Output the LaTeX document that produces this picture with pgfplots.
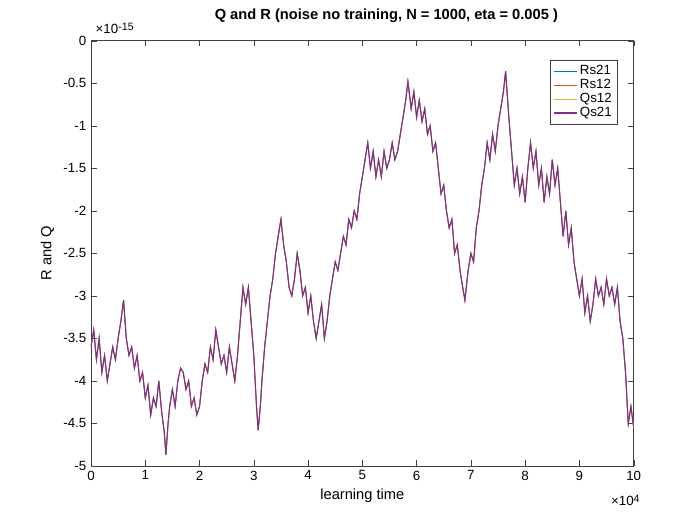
\documentclass[border=0pt]{standalone}
\usepackage{pgfplots}
\pgfplotsset{compat=1.18}
\usepackage{pgfplotstable}
\usepackage{fontspec}
\setmainfont{Liberation Sans}
\definecolor{matblue}{rgb}{0,0.447,0.741}
\definecolor{matorange}{rgb}{0.85,0.325,0.098}
\definecolor{matyellow}{rgb}{0.929,0.694,0.125}
\definecolor{matpurple}{rgb}{0.494,0.184,0.556}
\pgfplotstableread{
x y
0 -3.6
0.05 -3.4
0.1 -3.75
0.15 -3.5
0.2 -3.9
0.25 -3.7
0.3 -4.0
0.35 -3.8
0.4 -3.6
0.45 -3.75
0.5 -3.5
0.55 -3.3
0.6 -3.05
0.65 -3.5
0.7 -3.7
0.75 -3.6
0.8 -3.85
0.85 -3.7
0.9 -4.0
0.95 -3.9
1.0 -4.2
1.05 -4.05
1.1 -4.4
1.15 -4.2
1.2 -4.3
1.25 -4.0
1.3 -4.35
1.35 -4.6
1.38 -4.87
1.42 -4.5
1.45 -4.3
1.5 -4.1
1.55 -4.3
1.6 -4.0
1.65 -3.85
1.7 -3.9
1.75 -4.1
1.8 -4.0
1.85 -4.3
1.9 -4.2
1.95 -4.4
2.0 -4.3
2.05 -4.0
2.1 -3.8
2.15 -3.9
2.2 -3.6
2.25 -3.75
2.3 -3.4
2.35 -3.6
2.4 -3.8
2.45 -3.7
2.5 -3.9
2.55 -3.6
2.6 -3.8
2.65 -4.0
2.7 -3.7
2.75 -3.3
2.8 -2.9
2.85 -3.1
2.9 -2.9
2.95 -3.3
3.0 -3.7
3.05 -4.3
3.08 -4.58
3.12 -4.3
3.15 -4.0
3.2 -3.6
3.25 -3.3
3.3 -3.0
3.35 -2.8
3.4 -2.5
3.45 -2.3
3.5 -2.1
3.55 -2.4
3.6 -2.6
3.65 -2.9
3.7 -3.0
3.75 -2.8
3.8 -2.5
3.85 -2.7
3.9 -3.0
3.95 -2.9
4.0 -3.2
4.05 -3.0
4.1 -3.3
4.15 -3.5
4.2 -3.3
4.25 -3.1
4.3 -3.5
4.35 -3.3
4.4 -3.0
4.45 -2.8
4.5 -2.6
4.55 -2.7
4.6 -2.5
4.65 -2.3
4.7 -2.4
4.75 -2.1
4.8 -2.2
4.85 -2.0
4.9 -2.1
4.95 -1.8
5.0 -1.6
5.05 -1.4
5.1 -1.2
5.15 -1.5
5.2 -1.3
5.25 -1.6
5.3 -1.4
5.35 -1.6
5.4 -1.3
5.45 -1.5
5.5 -1.4
5.55 -1.2
5.6 -1.4
5.65 -1.3
5.7 -1.1
5.75 -0.9
5.8 -0.7
5.84 -0.48
5.9 -0.8
5.95 -0.6
6.0 -0.9
6.05 -0.7
6.1 -0.95
6.15 -0.8
6.2 -1.1
6.25 -1.0
6.3 -1.3
6.35 -1.2
6.4 -1.5
6.45 -1.8
6.5 -1.7
6.55 -2.0
6.6 -2.2
6.65 -2.1
6.7 -2.5
6.75 -2.4
6.8 -2.7
6.85 -2.9
6.89 -3.05
6.95 -2.7
7.0 -2.5
7.05 -2.6
7.1 -2.2
7.15 -2.0
7.2 -1.7
7.25 -1.5
7.3 -1.2
7.35 -1.4
7.4 -1.1
7.45 -1.3
7.5 -1.0
7.55 -0.8
7.6 -0.6
7.64 -0.36
7.7 -0.9
7.75 -1.3
7.8 -1.7
7.85 -1.5
7.9 -1.8
7.95 -1.6
8.0 -1.9
8.05 -1.5
8.1 -1.2
8.15 -1.5
8.2 -1.3
8.25 -1.7
8.3 -1.5
8.35 -1.9
8.4 -1.6
8.45 -1.8
8.5 -1.4
8.55 -1.7
8.6 -1.5
8.65 -1.9
8.7 -2.3
8.75 -2.0
8.8 -2.4
8.85 -2.2
8.9 -2.6
8.95 -2.8
9.0 -3.0
9.05 -2.8
9.1 -3.2
9.15 -3.0
9.2 -3.3
9.25 -3.1
9.3 -2.8
9.35 -3.0
9.4 -2.9
9.45 -3.1
9.5 -2.8
9.55 -3.0
9.6 -2.9
9.65 -3.1
9.7 -2.9
9.75 -3.3
9.8 -3.5
9.85 -3.9
9.9 -4.5
9.95 -4.3
10.0 -4.55
}\data
\begin{document}
\begin{tikzpicture}
\begin{axis}[
  scale only axis, width=407pt, height=319pt,
  xmin=0, xmax=10, ymin=-5, ymax=0,
  xtick={0,1,...,10}, ytick={-5,-4.5,...,0},
  yticklabel style={/pgf/number format/fixed},
  /pgf/number format/assume math mode=true,
  tick label style={font=\fontsize{10}{12}\selectfont},
  label style={font=\fontsize{11}{13}\selectfont},
  xlabel={learning time}, ylabel={R and Q},
  title style={font=\bfseries\fontsize{11}{13}\selectfont, at={(0.5,1)}, anchor=base, xshift=18pt, yshift=10pt},
  title={Q and R (noise no training, N = 1000, eta = 0.005 )},
  tick align=inside, axis line style={black!75}, tick style={black!75},
  legend style={at={(0.97,0.955)}, anchor=north east, font=\fontsize{10}{12}\selectfont, draw=black!75, row sep=-2pt, inner sep=2pt},
  legend cell align=left,
  legend image post style={sharp plot},
]
\addplot[color=matblue, line width=0.6pt] table {\data};
\addplot[color=matorange, line width=0.6pt] table {\data};
\addplot[color=matyellow, line width=0.6pt] table {\data};
\addplot[color=matpurple, line width=0.8pt] table {\data};
\legend{Rs21,Rs12,Qs12,Qs21}
\end{axis}
\node[anchor=base west, font=\fontsize{10}{12}\selectfont] at (0pt,324pt) {×10\raisebox{0.5ex}{\fontsize{8}{9}\selectfont -15}};
\node[anchor=base east, font=\fontsize{10}{12}\selectfont] at (415pt,-30pt) {×10\raisebox{0.5ex}{\fontsize{8}{9}\selectfont 4}};
\useasboundingbox (-68.25pt,-44.25pt) rectangle (456.75pt,349.5pt);
\end{tikzpicture}
\end{document}
